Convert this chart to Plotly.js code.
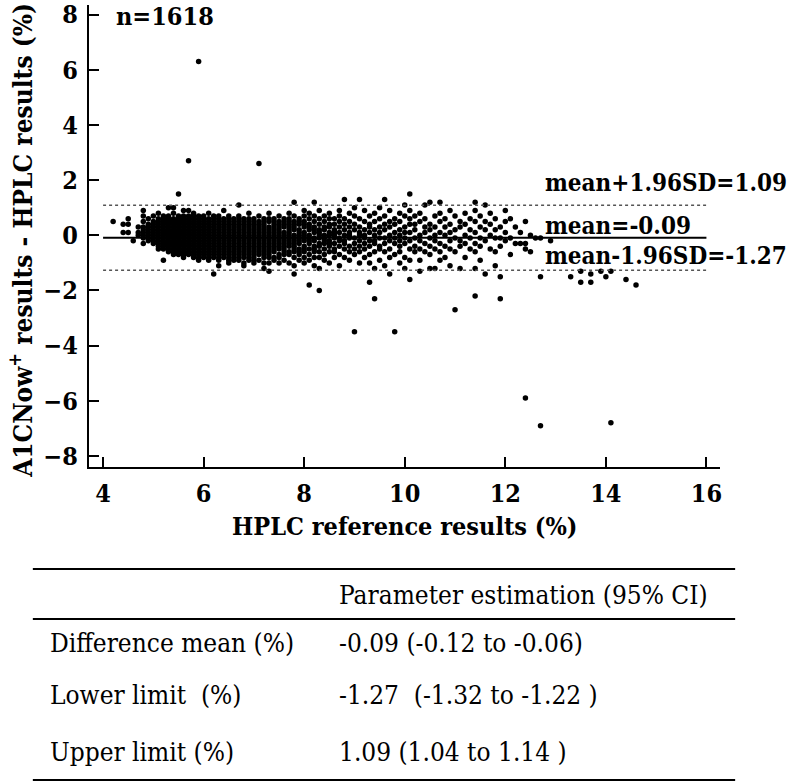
<!DOCTYPE html>
<html>
<head>
<meta charset="utf-8">
<script src="https://cdn.plot.ly/plotly-3.0.1.min.js"></script>
<style>
  body { margin: 0; background: white; }
  #figure { width: 792px; height: 784px; }
</style>
</head>
<body>
<div id="figure"></div>
<script>
// HPLC value of each column (x) and the differences read in that column (y)
const hplcCols = [4.2, 4.4, 4.5, 4.6, 4.7, 4.8, 4.9,
  5.0, 5.1, 5.2, 5.3, 5.4, 5.5, 5.6, 5.7, 5.8, 5.9,
  6.0, 6.1, 6.2, 6.3, 6.4, 6.5, 6.6, 6.7, 6.8, 6.9,
  7.0, 7.1, 7.2, 7.3, 7.4, 7.5, 7.6, 7.7, 7.8, 7.9,
  8.0, 8.1, 8.2, 8.3, 8.4, 8.5, 8.6, 8.7, 8.8, 8.9,
  9.0, 9.1, 9.2, 9.3, 9.4, 9.5, 9.6, 9.7, 9.8, 9.9,
  10.0, 10.1, 10.2, 10.3, 10.4, 10.5, 10.6, 10.7, 10.8, 10.9,
  11.0, 11.1, 11.2, 11.3, 11.4, 11.5, 11.6, 11.7, 11.8, 11.9,
  12.0, 12.1, 12.2, 12.3, 12.4, 12.5, 12.6, 12.7, 12.9,
  13.3, 13.5, 13.7, 13.9, 14.0, 14.1, 14.4, 14.6];

const diffCols = [
  [0.5],
  [0.4, 0.1],
  [0.6, 0.4, 0.1],
  [-0.2],
  [0.3, 0.1, 0.0],
  [0.9, 0.7, 0.5, 0.3, 0.2, 0.1, 0.0, -0.1, -0.3],
  [0.6, 0.4, 0.3, 0.2, 0.1, 0.0, -0.1, -0.2],
  // 5.0 - 5.9
  [0.7, 0.5, 0.4, 0.3, 0.2, 0.1, 0.0, -0.1, -0.2, -0.3],
  [0.8, 0.6, 0.5, 0.4, 0.3, 0.2, 0.1, 0.0, -0.1, -0.2, -0.3, -0.4, -0.5],
  [0.7, 0.6, 0.5, 0.4, 0.3, 0.2, 0.1, 0.0, -0.1, -0.2, -0.3, -0.4, -0.5, -0.9],
  [1.0, 0.7, 0.6, 0.5, 0.4, 0.3, 0.2, 0.1, 0.0, -0.1, -0.2, -0.3, -0.4, -0.5, -0.6],
  [1.0, 0.8, 0.6, 0.5, 0.4, 0.3, 0.2, 0.1, 0.0, -0.1, -0.2, -0.3, -0.4, -0.5, -0.6, -0.7],
  [1.5, 0.7, 0.6, 0.5, 0.4, 0.3, 0.2, 0.1, 0.0, -0.1, -0.2, -0.3, -0.4, -0.5, -0.6, -0.7],
  [0.9, 0.7, 0.6, 0.5, 0.4, 0.3, 0.2, 0.1, 0.0, -0.1, -0.2, -0.3, -0.4, -0.5, -0.6, -0.7, -0.8],
  [2.7, 0.9, 0.7, 0.6, 0.5, 0.4, 0.3, 0.2, 0.1, 0.0, -0.1, -0.2, -0.3, -0.4, -0.5, -0.6, -0.7],
  [0.8, 0.7, 0.6, 0.5, 0.4, 0.3, 0.2, 0.1, 0.0, -0.1, -0.2, -0.3, -0.4, -0.5, -0.6, -0.7, -0.8],
  [6.3, 0.7, 0.6, 0.5, 0.4, 0.3, 0.2, 0.1, 0.0, -0.1, -0.2, -0.3, -0.4, -0.5, -0.6, -0.7, -0.8, -0.9],
  // 6.0 - 6.9
  [0.7, 0.6, 0.5, 0.4, 0.3, 0.2, 0.1, 0.0, -0.1, -0.2, -0.3, -0.4, -0.5, -0.6, -0.7, -0.8],
  [0.8, 0.6, 0.5, 0.4, 0.3, 0.2, 0.1, 0.0, -0.1, -0.2, -0.3, -0.4, -0.5, -0.6, -0.7, -0.8, -0.9],
  [0.7, 0.6, 0.5, 0.4, 0.3, 0.2, 0.1, 0.0, -0.1, -0.2, -0.3, -0.4, -0.5, -0.6, -0.7, -0.8, -1.4],
  [0.7, 0.6, 0.5, 0.4, 0.3, 0.2, 0.1, 0.0, -0.1, -0.2, -0.3, -0.4, -0.5, -0.6, -0.7, -0.8, -0.9, -1.1],
  [0.9, 0.6, 0.5, 0.4, 0.3, 0.2, 0.1, 0.0, -0.1, -0.2, -0.3, -0.4, -0.5, -0.6, -0.7, -0.8],
  [0.7, 0.6, 0.5, 0.4, 0.3, 0.2, 0.1, 0.0, -0.1, -0.2, -0.3, -0.4, -0.5, -0.6, -0.7, -0.8, -0.9, -1.0],
  [0.6, 0.5, 0.4, 0.3, 0.2, 0.1, 0.0, -0.1, -0.2, -0.3, -0.4, -0.5, -0.6, -0.7, -0.8, -0.9],
  [1.1, 0.7, 0.6, 0.5, 0.4, 0.3, 0.2, 0.1, 0.0, -0.1, -0.2, -0.3, -0.4, -0.5, -0.6, -0.7, -0.8, -0.9],
  [0.6, 0.5, 0.4, 0.3, 0.2, 0.1, 0.0, -0.1, -0.2, -0.3, -0.4, -0.5, -0.6, -0.7, -0.8, -1.0, -1.1],
  [0.8, 0.6, 0.5, 0.4, 0.3, 0.2, 0.1, 0.0, -0.1, -0.2, -0.3, -0.4, -0.5, -0.6, -0.7, -0.8, -0.9],
  // 7.0 - 7.9
  [0.6, 0.5, 0.4, 0.3, 0.2, 0.1, 0.0, -0.1, -0.2, -0.3, -0.4, -0.5, -0.6, -0.7, -0.8, -0.9, -1.0],
  [2.6, 0.7, 0.5, 0.4, 0.3, 0.2, 0.1, 0.0, -0.1, -0.2, -0.3, -0.4, -0.5, -0.6, -0.7, -0.9],
  [0.6, 0.5, 0.4, 0.3, 0.2, 0.1, 0.0, -0.1, -0.2, -0.3, -0.4, -0.5, -0.6, -0.7, -0.8, -1.0, -1.2],
  [0.8, 0.6, 0.5, 0.3, 0.2, 0.1, 0.0, -0.1, -0.2, -0.3, -0.4, -0.5, -0.6, -0.7, -0.8, -1.0, -1.3],
  [0.6, 0.5, 0.4, 0.3, 0.2, 0.1, 0.0, -0.1, -0.2, -0.3, -0.4, -0.5, -0.6, -0.8, -0.9],
  [0.7, 0.5, 0.4, 0.3, 0.2, 0.1, 0.0, -0.1, -0.2, -0.3, -0.4, -0.5, -0.7, -0.8, -1.0],
  [0.6, 0.5, 0.4, 0.3, 0.1, 0.0, -0.1, -0.2, -0.3, -0.4, -0.5, -0.6, -0.7, -0.9],
  [0.8, 0.6, 0.5, 0.4, 0.3, 0.2, 0.1, 0.0, -0.1, -0.2, -0.3, -0.4, -0.6, -0.7, -1.0],
  [1.2, 0.7, 0.5, 0.4, 0.3, 0.2, 0.0, -0.1, -0.2, -0.3, -0.4, -0.5, -0.6, -0.8, -1.1, -1.4],
  [0.6, 0.5, 0.4, 0.2, 0.1, 0.0, -0.1, -0.2, -0.3, -0.5, -0.6, -0.7, -0.9],
  // 8.0 - 8.9
  [0.9, 0.7, 0.5, 0.4, 0.3, 0.1, 0.0, -0.1, -0.2, -0.4, -0.5, -0.6, -0.8, -1.0],
  [0.8, 0.6, 0.4, 0.3, 0.2, 0.0, -0.1, -0.2, -0.3, -0.5, -0.7, -0.9, -1.8],
  [1.2, 0.7, 0.5, 0.3, 0.2, 0.1, -0.1, -0.2, -0.4, -0.5, -0.6, -0.8, -1.1],
  [0.9, 0.6, 0.4, 0.2, 0.1, 0.0, -0.1, -0.3, -0.4, -0.6, -0.8, -1.2, -2.0],
  [0.7, 0.5, 0.3, 0.2, 0.0, -0.1, -0.2, -0.3, -0.5, -0.7, -0.9],
  [0.8, 0.6, 0.4, 0.3, 0.1, 0.0, -0.2, -0.3, -0.4, -0.6, -1.0],
  [0.6, 0.4, 0.2, 0.1, 0.0, -0.1, -0.3, -0.5, -0.6, -0.8],
  [0.9, 0.7, 0.5, 0.3, 0.1, -0.1, -0.2, -0.4, -0.7, -1.1],
  [1.3, 0.6, 0.4, 0.2, 0.0, -0.2, -0.3, -0.5, -0.8],
  [0.8, 0.5, 0.3, 0.1, 0.0, -0.1, -0.4, -0.6, -0.9],
  // 9.0 - 9.9
  [1.0, 0.7, 0.4, 0.2, -0.1, -0.3, -0.5, -0.7, -3.5],
  [1.3, 0.6, 0.3, 0.1, 0.0, -0.2, -0.4, -0.6, -1.0],
  [0.9, 0.5, 0.2, 0.0, -0.1, -0.3, -0.5, -0.8],
  [0.7, 0.4, 0.3, 0.1, -0.2, -0.4, -0.7, -1.0, -1.7],
  [0.8, 0.5, 0.2, 0.0, -0.2, -0.3, -0.6, -1.2, -2.3],
  [1.0, 0.6, 0.3, 0.1, -0.1, -0.4, -0.5, -0.9],
  [1.3, 0.7, 0.4, 0.2, -0.1, -0.3, -0.6, -1.1],
  [0.9, 0.5, 0.3, 0.0, -0.2, -0.5, -0.8, -1.4],
  [0.6, 0.4, 0.1, -0.1, -0.3, -0.7, -3.5],
  [0.8, 0.5, 0.2, 0.0, -0.2, -0.4, -0.6, -1.0],
  // 10.0 - 10.9
  [1.1, 0.7, 0.3, 0.1, -0.1, -0.3, -0.8, -1.2],
  [1.5, 0.9, 0.6, 0.4, 0.1, -0.2, -0.5, -0.9, -1.6],
  [0.7, 0.4, 0.2, -0.1, -0.4, -0.6],
  [0.8, 0.5, 0.0, -0.2, -0.5, -0.9, -1.3],
  [1.1, 0.6, 0.3, 0.1, -0.3, -0.6],
  [1.2, 0.4, 0.2, -0.1, -0.4, -0.7, -1.2],
  [0.7, 0.3, 0.0, -0.2, -0.5, -1.2],
  [1.2, 0.8, 0.5, 0.1, -0.3, -0.6, -0.9],
  [0.6, 0.3, 0.0, -0.4, -0.8],
  [0.9, 0.4, 0.1, -0.2, -0.5, -1.1],
  // 11.0 - 11.9
  [0.7, 0.2, -0.1, -0.6, -2.7],
  [0.5, 0.3, -0.2, -0.4, -1.2],
  [0.8, 0.4, 0.0, -0.3, -0.8],
  [0.6, 0.2, -0.1, -0.5],
  [1.2, 0.9, 0.5, 0.1, -0.3, -0.6, -1.2, -2.2],
  [0.7, 0.3, -0.1, -0.4, -0.9],
  [1.1, 0.5, 0.2, -0.2, -1.4],
  [0.8, 0.4, 0.0, -0.5],
  [0.6, 0.2, -0.1, -0.6, -1.1],
  [0.3, -0.1, -0.4, -1.5, -2.3],
  // 12.0 and above
  [0.9, 0.5, 0.1, -0.2],
  [0.6, -0.1, -0.7],
  [0.3, -0.3],
  [0.1, -0.3],
  [0.5, -0.3, -0.5, -5.9],
  [0.0, -0.6],
  [-0.1],
  [-0.1, -1.5, -6.9],
  [-0.2],
  [-1.5],
  [-1.3, -1.7],
  [-1.4, -1.7],
  [-1.3],
  [-1.5],
  [-1.3, -6.8],
  [-1.6],
  [-1.8]
];

const sampleSize = 1618;
const meanDiff = -0.09;
const upperLoA = 1.09;
const lowerLoA = -1.27;
const lineStart = 4;
const lineEnd = 16;

// table rows
const tableHeader = "Parameter estimation (95% CI)";
const rowLabels = ["Difference mean (%)", "Lower limit  (%)", "Upper limit (%)"];
const rowValues = ["-0.09 (-0.12 to -0.06)", "-1.27  (-1.32 to -1.22 )", "1.09 (1.04 to 1.14 )"];

var xs = [];
var ys = [];
for (let i = 0; i < hplcCols.length; i++) {
  for (let j = 0; j < diffCols[i].length; j++) {
    xs.push(hplcCols[i]);
    ys.push(diffCols[i][j]);
  }
}

const serif = "DejaVu Serif Condensed, DejaVu Serif";
const tickFont = {family: serif, size: 25, color: "black", weight: "bold"};
const noteFont = {family: serif, size: 24, color: "black", weight: "bold"};
const titleFont = {family: serif, size: 25, color: "black", weight: "bold"};
const tableFont = {family: serif, size: 26, color: "black"};

function hline(y, dash, width, color) {
  return {type: "line", xref: "x", yref: "y", x0: lineStart, x1: lineEnd, y0: y, y1: y,
    line: {color: color, width: width, dash: dash}};
}

function paperLine(y, width) {
  return {type: "line", xref: "paper", yref: "paper", x0: -0.089, x1: 1.024, y0: y, y1: y,
    line: {color: "black", width: width}};
}

function label(text, x, y, font) {
  return {text: text, x: x, y: y, xref: "x", yref: "y", showarrow: false,
    xanchor: "left", yanchor: "middle", font: font};
}

function cell(text, x, y) {
  return {text: text, x: x, y: y, xref: "paper", yref: "paper", showarrow: false,
    xanchor: "left", yanchor: "middle", font: tableFont};
}

var annotations = [
  {text: "n=" + sampleSize, x: 4.22, y: 1.01, xref: "x", yref: "paper", showarrow: false,
    xanchor: "left", yanchor: "top", font: tickFont},
  label("mean+1.96SD=" + upperLoA.toFixed(2), 12.74, 1.92, noteFont),
  label("mean=" + meanDiff.toFixed(2), 12.74, 0.36, noteFont),
  label("mean-1.96SD=" + lowerLoA.toFixed(2), 12.74, -0.72, noteFont),
  {text: "HPLC reference results (%)", x: 0.5, y: -0.128, xref: "paper", yref: "paper",
    showarrow: false, xanchor: "center", yanchor: "middle", font: titleFont},
  {text: "A1CNow<sup>+</sup> results - HPLC results (%)", x: -0.109, y: 0.49,
    xref: "paper", yref: "paper", textangle: -90, showarrow: false,
    xanchor: "center", yanchor: "middle", font: {family: serif, size: 26, color: "black", weight: "bold"}},
  cell(tableHeader, 0.393, -0.277)
];
const rowY = [-0.381, -0.4935, -0.617];
for (let i = 0; i < rowLabels.length; i++) {
  annotations.push(cell(rowLabels[i], -0.065, rowY[i]));
  annotations.push(cell(rowValues[i], 0.393, rowY[i]));
}

var axisCommon = {
  showline: true, linewidth: 2, linecolor: "black",
  ticks: "inside", ticklen: 10, tickwidth: 2, tickcolor: "black",
  showgrid: false, zeroline: false, mirror: false,
  tickfont: tickFont
};

Plotly.newPlot("figure", [{
  x: xs,
  y: ys,
  type: "scatter",
  mode: "markers",
  marker: {color: "black", size: 5.5},
  cliponaxis: false,
  hoverinfo: "skip"
}], {
  width: 792,
  height: 784,
  margin: {l: 89, r: 72, t: 5, b: 317},
  paper_bgcolor: "white",
  plot_bgcolor: "white",
  showlegend: false,
  xaxis: Object.assign({}, axisCommon, {range: [3.72, 16.27], tick0: 4, dtick: 2, ticklabelstandoff: 3}),
  yaxis: Object.assign({}, axisCommon, {range: [-8.4, 8.35], tick0: 0, dtick: 2, ticklabelstandoff: 4}),
  shapes: [
    hline(upperLoA, "dot", 1.5, "#555"),
    hline(lowerLoA, "dot", 1.5, "#555"),
    hline(meanDiff, "solid", 2, "black"),
    paperLine(-0.2208, 2),
    paperLine(-0.329, 2),
    paperLine(-0.6775, 2)
  ],
  annotations: annotations
}, {staticPlot: true});
</script>
</body>
</html>
